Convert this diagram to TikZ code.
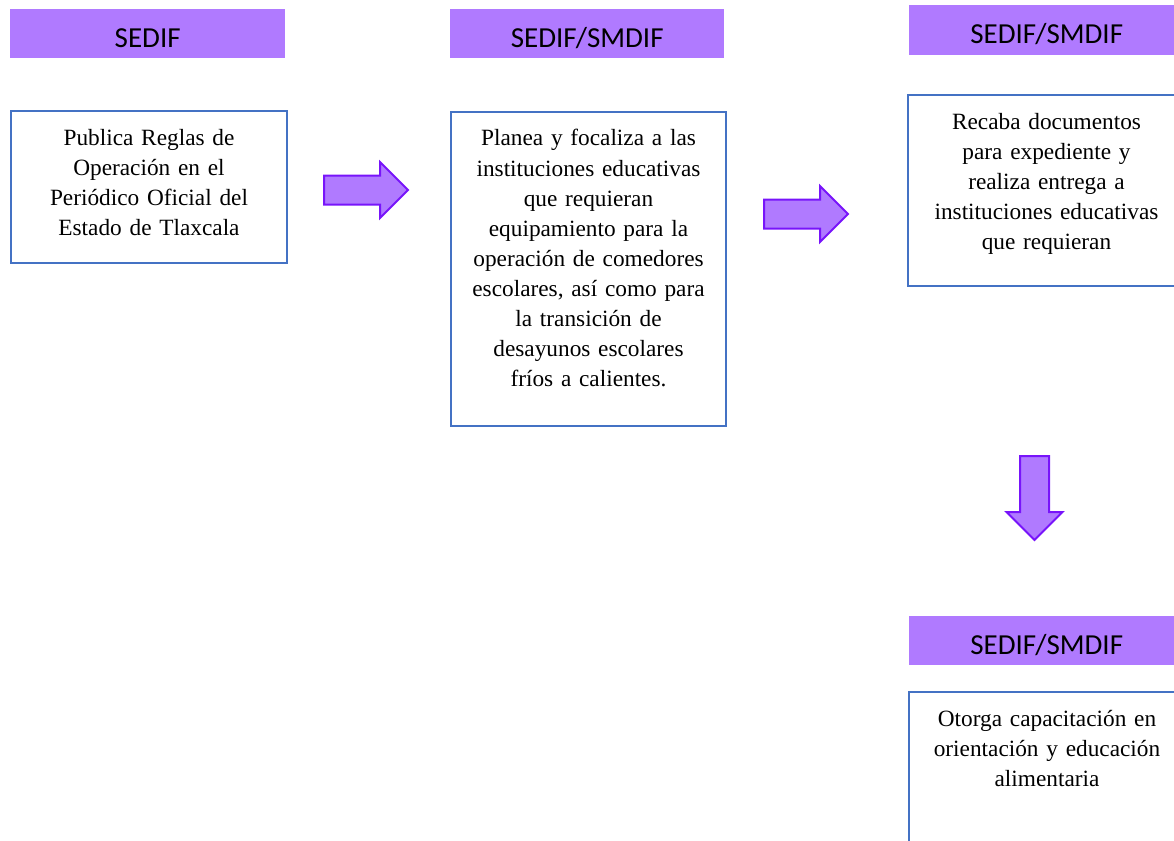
\documentclass[tikz,border=0pt]{standalone}
\usepackage{fontspec}
\setmainfont{Liberation Serif}
\newfontfamily\encabezado{Carlito}
\usetikzlibrary{shapes.arrows}
\definecolor{moradoclaro}{RGB}{176,122,255}
\definecolor{moradoborde}{RGB}{120,20,250}
\definecolor{azulcaja}{RGB}{68,114,196}

\begin{document}
\begin{tikzpicture}[x=1pt, y=-1pt,
    titulo/.style={fill=moradoclaro, anchor=north west, inner sep=0pt, minimum width=275pt, minimum height=49pt, text height=27pt, text depth=0pt, font=\encabezado\fontsize{29}{34}\selectfont},
    caja/.style={draw=azulcaja, line width=2pt, anchor=north west, inner xsep=4pt, inner ysep=0pt, align=center, text height=34pt, font=\fontsize{23.3}{30}\selectfont},
    flecha/.style={single arrow, draw=moradoborde, fill=moradoclaro, line width=2pt, minimum height=84pt, minimum width=54pt, single arrow head extend=13.5pt, inner sep=13.5pt, anchor=tail}]
    \useasboundingbox (0,0) rectangle (1174,840);

    % Headers
    \node[titulo] (enc1) at (10, 9) {SEDIF};
    \node[titulo, minimum width=274pt] (enc2) at (450, 9) {SEDIF/SMDIF};
    \node[titulo, minimum height=50pt] (enc3) at (909, 5) {SEDIF/SMDIF};
    \node[titulo] (enc4) at (909, 616) {SEDIF/SMDIF};

    % Boxes
    \node[caja, text width=268pt, text depth=118pt] (caja1) at (10, 110)
        {Publica Reglas de\\ Operación en el\\ Periódico Oficial del\\ Estado de Tlaxcala};
    \node[caja, text width=267pt, text depth=280pt] (caja2) at (450, 111)
        {Planea y focaliza a las\\ instituciones educativas\\ que requieran\\ equipamiento para la\\ operación de comedores\\ escolares, así como para\\ la transición de\\ desayunos escolares\\ fríos a calientes.};
    \node[caja, text width=269pt, text depth=157pt] (caja3) at (907, 94)
        {Recaba documentos\\ para expediente y\\ realiza entrega a\\ instituciones educativas\\ que requieran};
    \node[caja, text width=268pt, text depth=136pt] (caja4) at (908, 691)
        {Otorga capacitación en\\ orientación y educación\\ alimentaria};

    % Arrows
    \node[flecha] (flecha1) at (323, 190) {};
    \node[flecha] (flecha2) at (763, 214) {};
    \node[flecha, shape border rotate=270] (flecha3) at (1034.5, 455) {};
\end{tikzpicture}
\end{document}
